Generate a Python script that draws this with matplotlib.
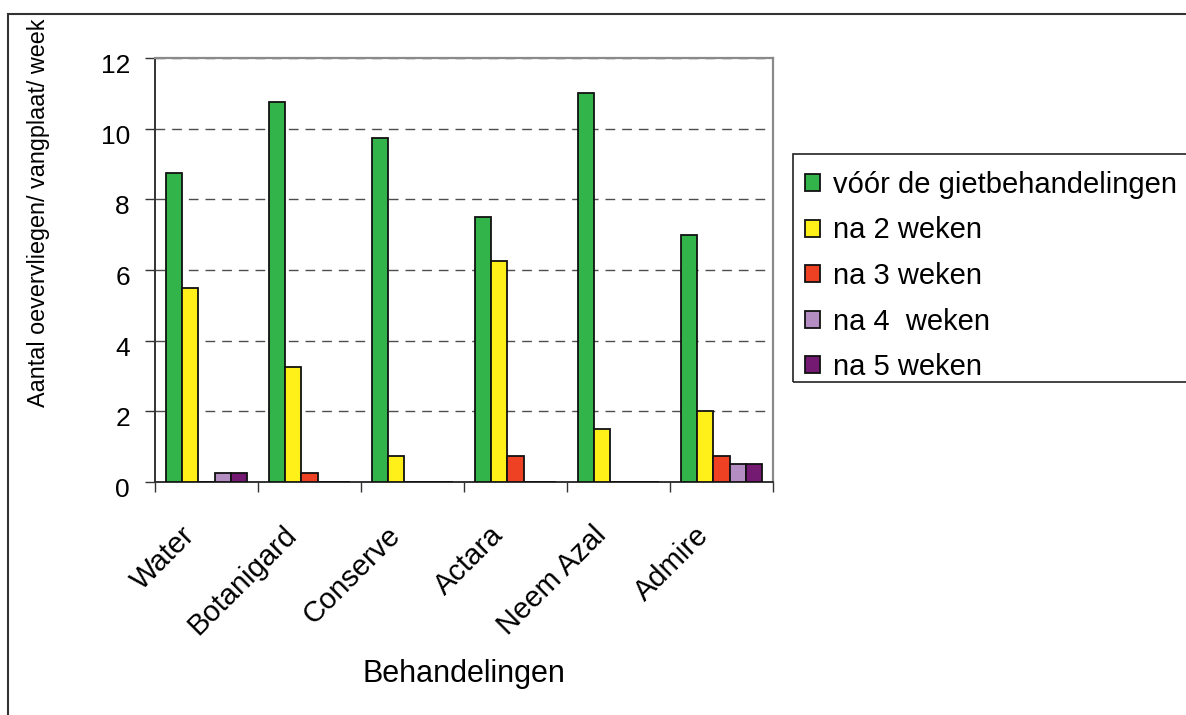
import matplotlib
matplotlib.use('Agg')
import matplotlib.pyplot as plt
from matplotlib.patches import Rectangle
from matplotlib.transforms import ScaledTranslation
import numpy as np

plt.rcParams['font.family'] = ['Liberation Sans', 'DejaVu Sans']

# data
behandelingen = ['Water', 'Botanigard', 'Conserve', 'Actara', 'Neem Azal', 'Admire']
voor = [8.75, 10.75, 9.75, 7.5, 11.0, 7.0]
na2 = [5.5, 3.25, 0.75, 6.25, 1.5, 2.0]
na3 = [0.0, 0.25, 0.0, 0.75, 0.0, 0.75]
na4 = [0.25, 0.0, 0.0, 0.0, 0.0, 0.5]
na5 = [0.25, 0.0, 0.0, 0.0, 0.0, 0.5]

series_labels = ['vóór de gietbehandelingen', 'na 2 weken', 'na 3 weken',
                 'na 4  weken', 'na 5 weken']
colors = ['#33B44A', '#FFF01A', '#EE4123', '#B48EC2', '#741A72']

W, H = 1186, 715
fig = plt.figure(figsize=(W / 100, H / 100), dpi=100)
ax = fig.add_axes([155 / W, 1 - 482 / H, 618 / W, 424 / H])

x = np.arange(len(behandelingen))
bw = 0.156
for i, (vals, lab, col) in enumerate(zip([voor, na2, na3, na4, na5], series_labels, colors)):
    ax.bar(x + (i - 2) * bw, vals, width=bw, color=col, edgecolor='#111111',
           linewidth=1.3, label=lab, zorder=3)

ax.set_xlim(-0.5, len(behandelingen) - 0.5)
ax.set_ylim(0, 12)
ax.set_yticks(range(0, 13, 2))
ax.tick_params(axis='y', labelsize=19, length=7, width=1, pad=11, color='#333333')
for t in ax.get_yticklabels():
    t.set_transform(t.get_transform() + ScaledTranslation(0, -4 / 72, fig.dpi_scale_trans))

# category boundaries as major ticks, names on minor ticks
ax.set_xticks(np.arange(-0.5, len(behandelingen)), [''] * (len(behandelingen) + 1))
ax.set_xticks(x, behandelingen, minor=True, rotation=45, ha='right',
              rotation_mode='anchor', fontsize=21)
ax.tick_params(axis='x', which='major', length=7, width=1, color='#333333')
ax.tick_params(axis='x', which='minor', length=0, pad=0)
for t in ax.get_xticklabels(minor=True):
    t.set_transform(t.get_transform() + ScaledTranslation(-19 / 72, -28 / 72, fig.dpi_scale_trans))

ax.yaxis.grid(True, linestyle=(0, (7, 5)), color='#4d4d4d', linewidth=1.0, zorder=1)
ax.set_axisbelow(True)

for side in ['top', 'right']:
    ax.spines[side].set_color('#8a8a8a')
    ax.spines[side].set_linewidth(1.6)
for side in ['left', 'bottom']:
    ax.spines[side].set_color('#333333')
    ax.spines[side].set_linewidth(1.4)

fig.text(39 / W, 1 - 213 / H, 'Aantal oevervliegen/ vangplaat/ week', rotation=90,
         ha='center', va='center', fontsize=16.8)
fig.text(464 / W, 1 - 682 / H, 'Behandelingen', ha='center', va='baseline', fontsize=22)

leg = ax.legend(loc='upper left', bbox_to_anchor=(805 / W, 1 - 171 / H),
                bbox_transform=fig.transFigure, borderaxespad=0, fontsize=21,
                frameon=False, handlelength=0.52, handleheight=0.52, handletextpad=0.45,
                labelspacing=0.6, borderpad=0)
for h in leg.legend_handles:
    h.set_edgecolor('#111111')
    h.set_linewidth(1.3)

# legend frame, cut off at the right edge like the reference
fig.patches.append(Rectangle((793 / W, 1 - 382 / H), 0.5, (382 - 154) / H,
                             transform=fig.transFigure, fill=False,
                             edgecolor='#222222', linewidth=1.2))

# outer chart border, cut off on the right and bottom like the reference
fig.patches.append(Rectangle((8 / W, -0.1), 1.2, 1.1 - 14 / H, transform=fig.transFigure,
                             fill=False, edgecolor='#333333', linewidth=1.5))

fig.savefig('out.png', dpi=100)
